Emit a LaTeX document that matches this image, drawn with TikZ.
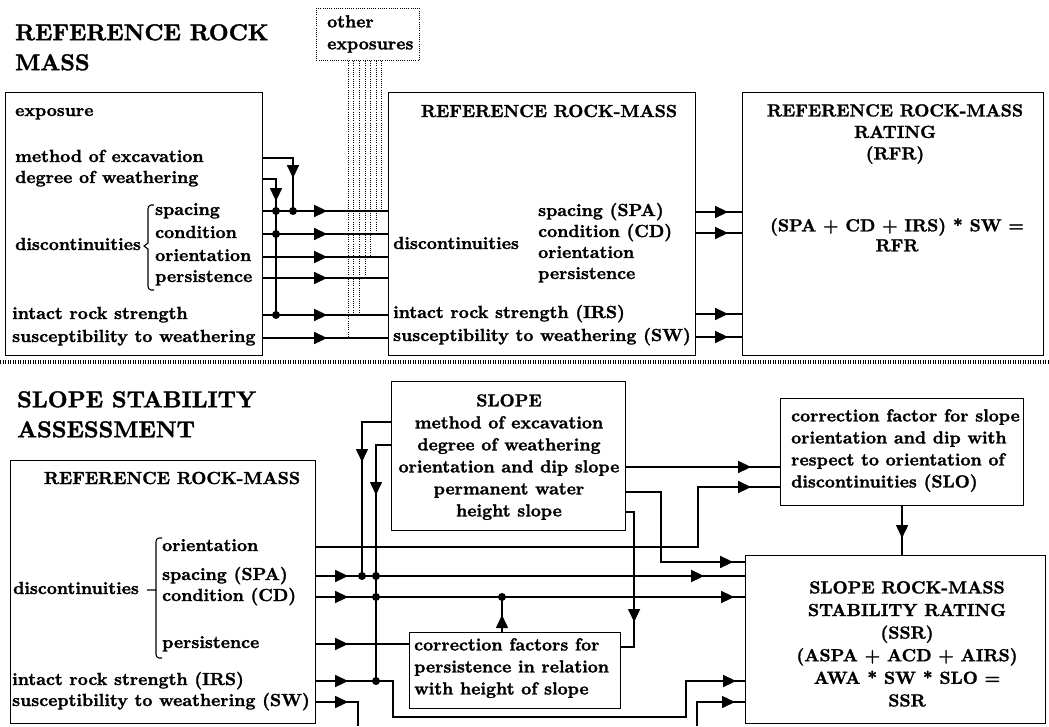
\documentclass[tikz,border=0pt]{standalone}
\usepackage{fontspec}
\newfontfamily\heavyfont{lmroman10-bold.otf}[FakeBold=1.5]
\usetikzlibrary{arrows.meta,decorations.markings}
\newcommand\bodyf{\fontsize{17.5}{22}\selectfont\heavyfont}
\newcommand\titlef{\fontsize{23}{30}\selectfont\heavyfont}
\tikzset{
  txt/.style={font=\bodyf, inner sep=0pt, anchor=west, text height=12pt, text depth=4pt},
  mtxt/.style={font=\bodyf, inner sep=0pt},
  box/.style={draw, line width=1.1pt, inner sep=0pt, anchor=north west},
  con/.style={line width=1.5pt},
  jdot/.style={circle, fill, inner sep=0pt, minimum size=8pt},
  dotl/.style={line width=0.9pt, dash pattern=on 1pt off 1.2pt},
  sepline/.style={line width=4pt, dash pattern=on 1.2pt off 1.3pt},
  ar/.style={postaction={decorate, decoration={markings, mark=at position #1 with {\arrow{Triangle[length=13pt,width=12pt]}}}}},
}
\begin{document}
\begin{tikzpicture}[x=1pt,y=-1pt]
\useasboundingbox (0,0) rectangle (1049,726);

% ---------------- TOP SECTION ----------------
\node[font=\titlef, anchor=north west, inner sep=0pt, align=left] (t1) at (15,24) {REFERENCE ROCK\\MASS};

% other exposures
\node[box, dotl, minimum width=103pt, minimum height=52pt] (D) at (316,8) {};
\node[mtxt, align=left, anchor=north west] (dt) at (327,15) {other\\exposures};

% left box
\node[box, minimum width=257pt, minimum height=263pt] (A) at (5,92) {};
\node[txt] (aexp) at (15,112) {exposure};
\node[txt] (ameth) at (15,158) {method of excavation};
\node[txt] (adeg) at (15,179) {degree of weathering};
\node[txt] (adisc) at (15,246) {discontinuities};
\node[txt] (asp) at (155,211) {spacing};
\node[txt] (acd) at (155,234) {condition};
\node[txt] (aor) at (155,257) {orientation};
\node[txt] (ape) at (155,278) {persistence};
\node[txt] (airs) at (12,315) {intact rock strength};
\node[txt] (asw) at (12,338) {susceptibility to weathering};
\draw[line width=1.1pt] (154,205) -- (151,205) to[out=180,in=90] (148,209) -- (148,243) -- (144,246) -- (148,249) -- (148,286) to[out=-90,in=180] (151,290) -- (154,290);

% middle box
\node[box, minimum width=307pt, minimum height=263pt] (B) at (388,92) {};
\node[txt, anchor=center] (bt) at (549,113) {REFERENCE ROCK-MASS};
\node[txt] (bdisc) at (393,245) {discontinuities};
\node[txt] (bsp) at (538,212) {spacing (SPA)};
\node[txt] (bcd) at (538,233) {condition (CD)};
\node[txt] (bor) at (538,254) {orientation};
\node[txt] (bpe) at (538,275) {persistence};
\node[txt] (birs) at (393,314) {intact rock strength (IRS)};
\node[txt] (bsw) at (393,337) {susceptibility to weathering (SW)};

% right box
\node[box, minimum width=301pt, minimum height=263pt] (C) at (742,92) {};
\node[font=\fontsize{17.5}{21.5}\selectfont\heavyfont, inner sep=0pt, align=center, anchor=north] (ct) at (895,104) {REFERENCE ROCK-MASS\\RATING\\(RFR)};
\node[font=\fontsize{17.5}{20}\selectfont\heavyfont, inner sep=0pt, align=center, anchor=north] (cf) at (897,218) {(SPA + CD + IRS) * SW =\\RFR};

% junction dots
\node[jdot] (p1) at (276,211) {};
\node[jdot] (p2) at (293,211) {};
\node[jdot] (p3) at (276,234) {};
\node[jdot] (p4) at (276,315) {};

% dotted lines from other exposures
\foreach \i/\dx/\row in {1/65/asp, 2/60/acd, 3/54/aor, 4/49/ape, 5/43/airs, 6/37/airs, 7/32/asw}{
  \coordinate (dd\i) at ([xshift=\dx pt]D.south west);
  \draw[dotl] (dd\i) -- (dd\i |- \row);
}

% connectors top
\draw[con, ar=50pt] (A.east |- ameth) -| (p2.center);
\draw[con, ar=35pt] (A.east |- adeg) -| (p4.center);
\foreach \r in {asp, acd, aor, ape, airs, asw}{
  \draw[con, ar=64pt] (A.east |- \r) -- (B.west |- \r);
}
\foreach \r in {bsp, bcd, birs, bsw}{
  \draw[con, ar=32pt] (B.east |- \r) -- (C.west |- \r);
}

% separator
\coordinate (sepL) at (0,362);
\coordinate (sepR) at (1049,362);
\draw[sepline] (sepL) -- (sepR);

% ---------------- BOTTOM SECTION ----------------
\node[font=\titlef, anchor=north west, inner sep=0pt, align=left] (t2) at (17,391) {SLOPE STABILITY\\ASSESSMENT};

% reference rock-mass box
\node[box, minimum width=305pt, minimum height=263pt] (E) at (10,460) {};
\node[txt, anchor=center] (et) at (172,480) {REFERENCE ROCK-MASS};
\node[txt] (eor) at (162,547) {orientation};
\node[txt] (esp) at (162,576) {spacing (SPA)};
\node[txt] (ecd) at (162,597) {condition (CD)};
\node[txt] (epe) at (162,644) {persistence};
\node[txt] (edisc) at (13,590) {discontinuities};
\node[txt] (eirs) at (12,681) {intact rock strength (IRS)};
\node[txt] (esw) at (12,702) {susceptibility to weathering (SW)};
\draw[line width=1.1pt] (162,538) -- (159,538) to[out=180,in=90] (156,542) -- (156,590) -- (147,590) (156,590) -- (156,654) to[out=-90,in=180] (159,658) -- (162,658);

% slope box
\node[box, minimum width=234pt, minimum height=149pt] (F) at (391,381) {};
\node[mtxt, align=center, anchor=north] (ft) at (509,394) {SLOPE\\method of excavation\\degree of weathering\\orientation and dip slope\\permanent water\\height slope};

% correction factor for slope orientation
\node[box, minimum width=243pt, minimum height=107pt] (G) at (780,398) {};
\node[mtxt, align=left, anchor=north west] (gt) at (791,409) {correction factor for slope\\orientation and dip with\\respect to orientation of\\discontinuities (SLO)};

% SSR box
\node[box, minimum width=300pt, minimum height=168pt] (H) at (745,555) {};
\node[font=\fontsize{17.5}{22.6}\selectfont\heavyfont, inner sep=0pt, align=center, anchor=north] (ht) at (907,581) {SLOPE ROCK-MASS\\STABILITY RATING\\(SSR)\\(ASPA + ACD + AIRS)\\AWA * SW * SLO =\\SSR};

% persistence correction box
\node[box, minimum width=211pt, minimum height=76pt] (I) at (409,632) {};
\node[mtxt, align=left, anchor=north west] (it) at (414,638) {correction factors for\\persistence in relation\\with height of slope};

% junction dots
\node[jdot] (q1) at (362,576) {};
\node[jdot] (q2) at (376,576) {};
\node[jdot] (q3) at (376,597) {};
\node[jdot] (q4) at (376,681) {};
\node[jdot] (q5) at (502,597) {};

% coordinates on box edges
\coordinate (fm) at ([yshift=-41pt]F.north west);
\coordinate (fd) at ([yshift=-64pt]F.north west);
\coordinate (fo) at ([yshift=-86pt]F.north east);
\coordinate (fw) at ([yshift=-111pt]F.north east);
\coordinate (fh) at ([yshift=-131pt]F.north east);
\coordinate (cutL) at (358,726);
\coordinate (cutR) at (697,726);

% connectors bottom
\draw[con, ar=69pt] (fm) -| (q1.center);
\draw[con, ar=65pt] (fd) -| (q4.center);
\draw[con, ar=125pt] (fo) -- (fo -| G.west);
\draw[con, ar=177pt] (fw) -- ++(35,0) |- ([yshift=-7pt]H.north west);
\draw[con, ar=118pt] (fh) -- ++(8,0) |- ([yshift=-15pt]I.north east);
\draw[con, ar=32pt] (G.south) -- (G.south |- H.north);
\draw[con, ar=495pt] (E.east |- eor) -- ++(382,0) |- ([yshift=-89pt]G.north west);
\draw[con, ar=32pt, ar=388pt] (E.east |- esp) -- (H.west |- esp);
\draw[con, ar=32pt, ar=418pt] (E.east |- ecd) -- (H.west |- ecd);
\draw[con, ar=32pt] (E.east |- epe) -- (I.west |- epe);
\draw[con, ar=32pt, ar=492pt] (E.east |- eirs) -- ++(77,0) -- ++(0,36) -- ++(293,0) -- ++(0,-36) -- (H.west |- eirs);
\draw[con, ar=32pt] (E.east |- esw) -| (cutL);
\draw[con, ar=62pt] (cutR) |- (H.west |- esw);
\draw[con, ar=17pt] (I.north -| q5) -- (q5.center);

\end{tikzpicture}
\end{document}
